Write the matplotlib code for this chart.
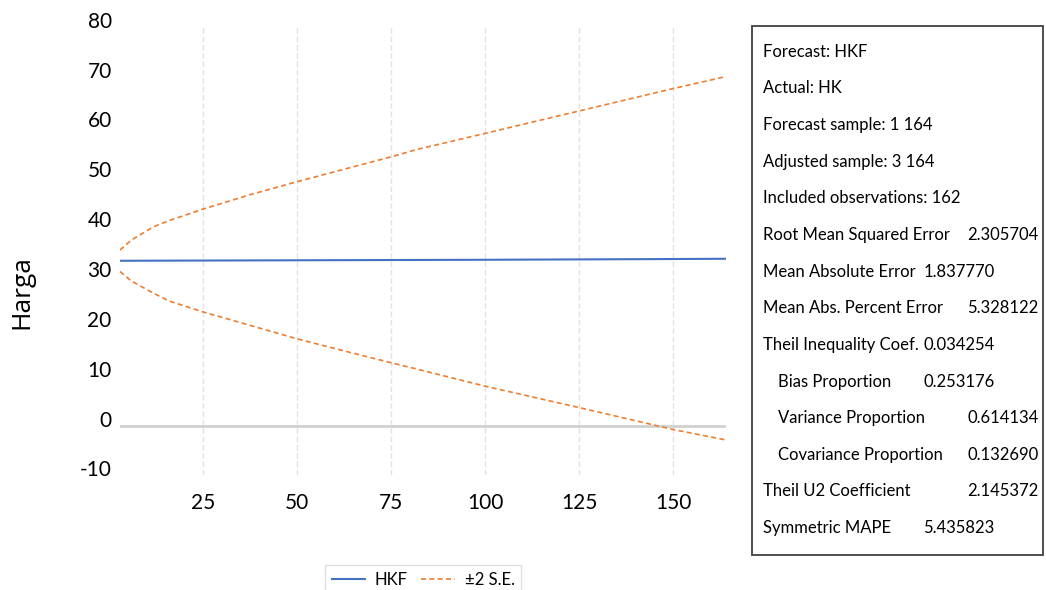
import matplotlib
matplotlib.use("Agg")
import matplotlib.pyplot as plt
import matplotlib.transforms as mtransforms
from matplotlib.patches import Rectangle

plt.rcParams['font.family'] = ['Lato', 'DejaVu Sans']
plt.rcParams['axes.unicode_minus'] = False

# forecast HKF and +/- 2 S.E. bands
hkf_x = [3, 50, 100, 150, 164]
hkf = [33.05, 33.15, 33.25, 33.4, 33.45]

band_x = [3, 6, 12, 16, 25, 38, 50, 65, 75, 82, 100, 125, 150, 164]
upper = [35.2, 37.2, 39.9, 41.1, 43.4, 46.4, 48.9, 51.9, 53.9, 55.4, 58.6, 63.1, 67.6, 70.0]
lower = [30.9, 29.0, 26.5, 25.0, 22.8, 20.0, 17.4, 14.5, 12.6, 11.3, 7.9, 3.6, -0.8, -2.9]

xticks = [25, 50, 75, 100, 125, 150]
yticks = [-10, 0, 10, 20, 30, 40, 50, 60, 70, 80]

# statistik di kotak kanan: (label, nilai, indent, posisi nilai)
stats = [
    ("Forecast: HKF", "", False, None),
    ("Actual: HK", "", False, None),
    ("Forecast sample: 1 164", "", False, None),
    ("Adjusted sample: 3 164", "", False, None),
    ("Included observations: 162", "", False, None),
    ("Root Mean Squared Error", "2.305704", False, "right"),
    ("Mean Absolute Error", "1.837770", False, "mid"),
    ("Mean Abs. Percent Error", "5.328122", False, "right"),
    ("Theil Inequality Coef.", "0.034254", False, "mid"),
    ("Bias Proportion", "0.253176", True, "mid"),
    ("Variance Proportion", "0.614134", True, "right"),
    ("Covariance Proportion", "0.132690", True, "right"),
    ("Theil U2 Coefficient", "2.145372", False, "right"),
    ("Symmetric MAPE", "5.435823", False, "mid"),
]

W, H = 1046, 590
fig = plt.figure(figsize=(W / 100, H / 100), dpi=100)
ax = fig.add_axes([120 / W, 1 - 475.4 / H, (726 - 120) / W, (475.4 - 26.7) / H])

ax.plot(hkf_x, hkf, color='#4472C4', lw=1.5, label='HKF', zorder=3)
ax.plot(band_x, upper, color='#ED7D31', lw=1.2, ls=(0, (3, 2)), label='\u00b12 S.E.', zorder=3)
ax.plot(band_x, lower, color='#ED7D31', lw=1.2, ls=(0, (3, 2)), zorder=3)
ax.axhline(0, color='#d0d0d0', lw=2, zorder=1)

ax.set_xlim(3, 164)
ax.set_ylim(-10, 80)
ax.set_xticks(xticks)
ax.set_yticks(yticks)
ax.xaxis.grid(True, color='#e2e2e2', ls=(0, (4, 2)), lw=1)
ax.tick_params(length=0, labelsize=15, colors='#000000')
ax.tick_params(axis='x', pad=13)
ax.tick_params(axis='y', pad=6)
for s in ax.spines.values():
    s.set_visible(False)

# label y sedikit naik seperti di Excel
off = mtransforms.ScaledTranslation(0, 7 / 100, fig.dpi_scale_trans)
for lab in ax.get_yticklabels():
    lab.set_transform(lab.get_transform() + off)

fig.text(22 / W, 1 - 292 / H, "Harga", rotation=90, ha='center', va='center',
         fontsize=19, family=['Open Sans', 'DejaVu Sans'])

leg = fig.legend(loc='upper center', bbox_to_anchor=(423 / W, 1 - 557 / H),
                 ncol=2, fontsize=12, frameon=True, fancybox=False,
                 edgecolor='#d9d9d9', borderpad=0.4, handlelength=2.0,
                 columnspacing=0.8, handletextpad=0.6)
leg.get_frame().set_linewidth(1)

# kotak statistik
fig.patches.append(Rectangle((752 / W, 1 - 555 / H), (1043 - 752) / W, (555 - 26) / H,
                             transform=fig.transFigure, fill=False,
                             edgecolor='#404040', lw=1.3))
for i, (label, val, indent, pos) in enumerate(stats):
    y = 1 - (51.7 + i * 36.65) / H
    x0 = 778 if indent else 763.3
    fig.text(x0 / W, y, label, fontsize=12, ha='left', va='center')
    if pos == "right":
        fig.text(1038.5 / W, y, val, fontsize=12, ha='right', va='center')
    elif pos == "mid":
        fig.text(923.3 / W, y, val, fontsize=12, ha='left', va='center')

fig.savefig("out.png", dpi=100)
